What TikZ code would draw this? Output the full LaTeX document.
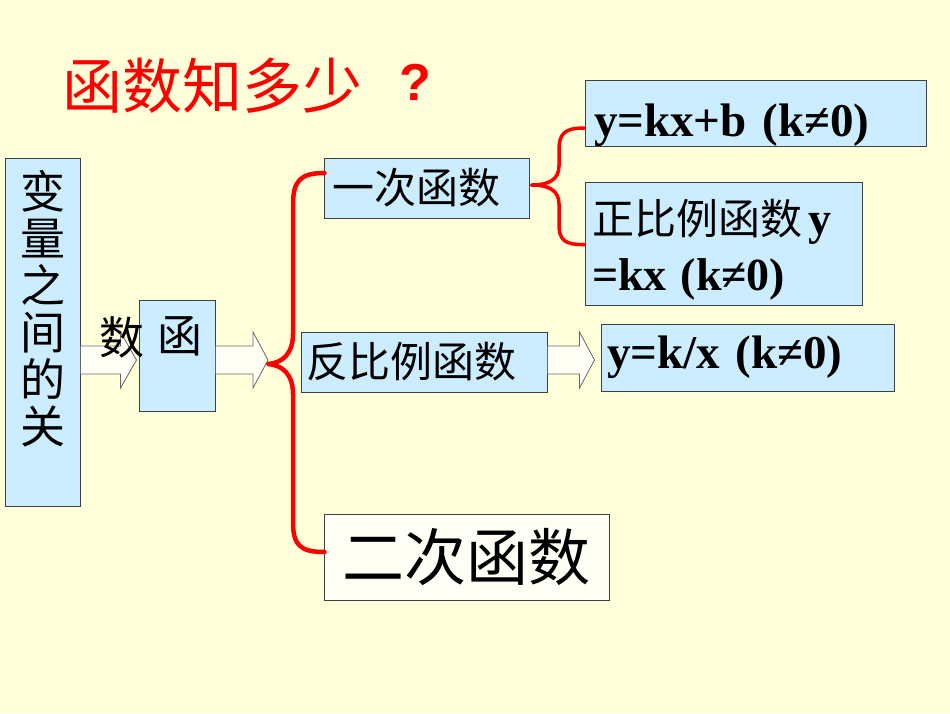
\documentclass[tikz,border=0pt]{standalone}
\usepackage{fontspec}
\setmainfont{Liberation Serif}
\newfontfamily\cjk{Noto Sans CJK SC}
\newfontfamily\sanslat{Liberation Sans}
\usetikzlibrary{calc}
\definecolor{bg}{HTML}{FFFFD9}
\definecolor{boxblue}{HTML}{CCECFF}
\definecolor{edge}{HTML}{404040}
\definecolor{bracered}{HTML}{FF0000}
\definecolor{arrfill}{HTML}{FFFFF5}
\tikzset{
  bluebox/.style={draw=edge, line width=1pt, fill=boxblue, inner sep=0pt, anchor=center},
  cjktext/.style={font=\cjk\fontsize{42}{48}\selectfont, text=black},
  lattext/.style={font=\bfseries\fontsize{47}{50}\selectfont, text=black},
  blockarr/.style={draw=edge!80, line width=0.8pt, fill=arrfill},
  bracestyle/.style={draw=bracered, line width=4.5pt, line cap=round, line join=round},
  smallbrace/.style={draw=bracered, line width=3.5pt, line cap=round, line join=round}
}
\begin{document}
\begin{tikzpicture}[x=1pt,y=-1pt]
\path[fill=bg] (0,0) rectangle (950,713);
\useasboundingbox (0,0) rectangle (950,713);

% title
\node[font=\cjk\fontsize{60}{62}\selectfont, text=bracered, inner sep=0pt] (title) at (212,86) {函数知多少};
\node[font=\sanslat\bfseries\fontsize{52}{54}\selectfont, text=bracered, inner sep=0pt] (qmark) at (415,82) {?};

% left tall box
\node[bluebox, minimum width=75pt, minimum height=348pt] (vbox) at (42.5,332) {};
\node[font=\cjk\fontsize{45}{47}\selectfont, align=center, inner sep=0pt] (vtext) at (43,309) {变\\量\\之\\间\\的\\关};

% function box
\node[bluebox, minimum width=76pt, minimum height=111pt] (func) at (177,355.5) {};

% block arrows
\draw[blockarr] (vbox.east|-0,346) -- ($(func.west|-0,346)+(-18,0)$) -- ++(0,-14)
  -- ($(func.west|-0,360)+(-2,0)$) -- ($(func.west|-0,374)+(-18,14)$) -- ++(0,-14)
  -- (vbox.east|-0,374) -- cycle;

\node[font=\cjk\fontsize{45}{47}\selectfont, inner sep=0pt] (shu) at (122,337) {数};
\node[font=\cjk\fontsize{45}{47}\selectfont, inner sep=0pt] (han) at (180,336) {函};

\coordinate (btip) at (268,364);
\draw[blockarr] (func.east|-0,346) -- ($(btip|-0,346)+(-15,0)$) -- ++(0,-14)
  -- (btip|-0,360) -- ($(btip|-0,374)+(-15,14)$) -- ++(0,-14)
  -- (func.east|-0,374) -- cycle;

% category boxes
\node[bluebox, cjktext, minimum width=205pt, minimum height=60pt, text width=193pt, align=left] (yici) at (426.5,188) {\hspace{2pt}一次函数};
\node[bluebox, cjktext, minimum width=246pt, minimum height=60pt, text width=236pt, align=left] (fanbi) at (424,362) {反比例函数};
\node[draw=edge, line width=1pt, fill=arrfill, inner sep=0pt, font=\cjk\fontsize{62}{64}\selectfont,
      minimum width=285pt, minimum height=86pt] (erci) at (466.5,557) {二次函数};

% formula boxes
\node[bluebox, lattext, minimum width=341pt, minimum height=66pt, text width=323pt, align=left,
      text height=50pt, text depth=4pt] (ykx) at (755.5,113) {y=kx+b (k≠0)};
\node[bluebox, minimum width=277pt, minimum height=123pt, text width=263pt, align=left,
      font=\fontsize{42}{42}\selectfont] (zb) at (723.5,243.5)
      {\rule{0pt}{48pt}{\cjk 正比例函数}\hspace{6pt}{\bfseries\fontsize{46}{46}\selectfont y}\\[14pt]{\bfseries\fontsize{46}{46}\selectfont =kx (k≠0)}};
\node[bluebox, lattext, minimum width=293pt, minimum height=67pt, text width=281pt, align=left] (ykx2) at (747.5,357.5) {y=k/x (k≠0)};

% arrow fanbi -> ykx2
\draw[blockarr] (fanbi.east|-0,346) -- ($(ykx2.west|-0,346)+(-21,0)$) -- ++(0,-14)
  -- ($(ykx2.west|-0,360)+(-6,0)$) -- ($(ykx2.west|-0,374)+(-21,14)$) -- ++(0,-14)
  -- (fanbi.east|-0,374) -- cycle;

% big red brace
\draw[bracestyle] ($(yici.west)+(1,-15)$) .. controls (300,173) and (293,181) .. (293,205)
  -- (293,334) .. controls (293,354) and (282,363) .. (btip)
  .. controls (282,365) and (293,374) .. (293,394)
  -- (293,522) .. controls (293,545) and (300,552) .. ($(erci.west)+(1,-5)$);

% small red brace
\draw[smallbrace] ($(ykx.west)+(0,15)$) .. controls (565,128) and (559,133) .. (559,150)
  -- (559,166) .. controls (559,180) and (548,185) .. ($(yici.east)+(2,-3)$)
  .. controls (548,185) and (559,190) .. (559,204)
  -- (559,225) .. controls (559,240) and (565,245) .. ($(zb.west)+(0,1)$);
\end{tikzpicture}
\end{document}
